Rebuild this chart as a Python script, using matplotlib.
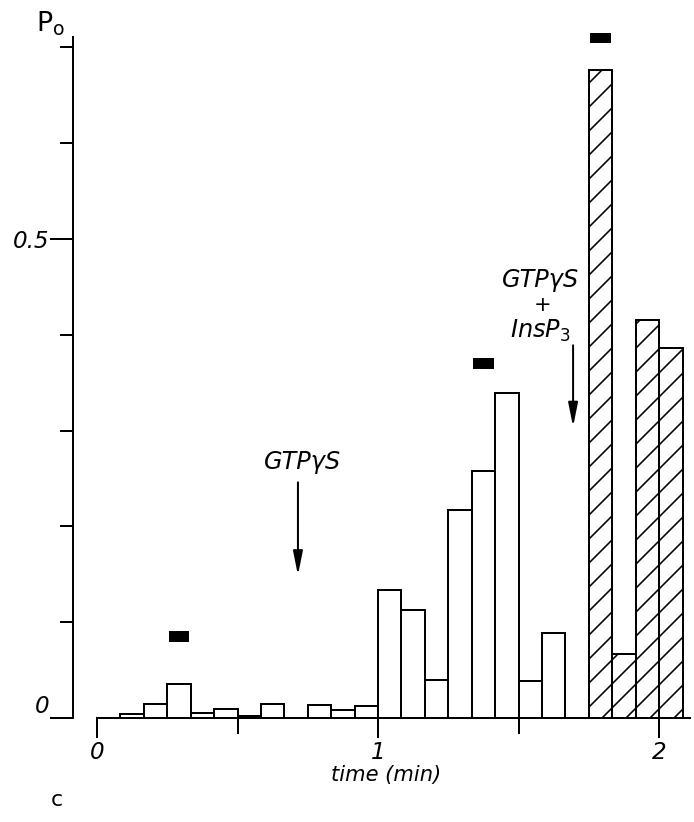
import numpy as np
import matplotlib.pyplot as plt

# 5-s bins over the recording (min), open probability per bin
bin_start = np.arange(25) / 12.0
po = [0.0, 0.004, 0.015, 0.035, 0.005, 0.009, 0.002, 0.015, 0.0, 0.014, 0.008, 0.013,
      0.134, 0.113, 0.040, 0.217, 0.258, 0.339, 0.039, 0.089, 0.0,
      0.676, 0.067, 0.415, 0.386]
# bins recorded after GTPgS + InsP3 are hatched
with_insp3 = [False] * 21 + [True] * 4

# black marks above the bins used for the example traces
trace_bins = [3, 16, 21]
trace_y = [0.085, 0.37, 0.71]

plt.rcParams['font.family'] = 'DejaVu Sans'
plt.rcParams['hatch.linewidth'] = 1.6

# at 72 dpi one point is one pixel, so all sizes below are in pixels
W, H = 694, 822
fig = plt.figure(figsize=(W / 72, H / 72), dpi=72)
ax = fig.add_axes([73 / W, 104 / H, 617 / W, 0.73 * 958 / H])

w = 1 / 12.0
for t, p, h in zip(bin_start, po, with_insp3):
    ax.bar(t, p, width=w, align='edge', facecolor='white', edgecolor='black',
           linewidth=2, hatch='/' if h else None, zorder=2)

for b, y in zip(trace_bins, trace_y):
    ax.bar(bin_start[b] + 0.005, 0.011, width=w - 0.01, bottom=y - 0.0055,
           align='edge', color='black', clip_on=False, zorder=3)

ax.set_xlim(-24 / 281, 2.11)
ax.set_ylim(0, 0.73)
for s in ['top', 'right']:
    ax.spines[s].set_visible(False)
ax.spines['left'].set_bounds(0, 0.711)
ax.spines['bottom'].set_bounds(0, 2.11)
ax.spines['left'].set_linewidth(2)
ax.spines['bottom'].set_linewidth(2)

ax.set_xticks([0, 1, 2], ['0', '1', '2'])
ax.set_xticks([0.5, 1.5], minor=True)
ax.set_yticks([0, 0.5], ['0', '0.5'])
ax.set_yticks([0.1, 0.2, 0.3, 0.4, 0.6, 0.7], minor=True)
ax.tick_params(axis='x', which='major', length=20, width=2, pad=3, labelsize=23)
ax.tick_params(axis='x', which='minor', length=16, width=2)
ax.tick_params(axis='y', which='major', length=23, width=2, pad=1, labelsize=23)
ax.tick_params(axis='y', which='minor', length=13, width=2)
for lab in ax.get_xticklabels() + ax.get_yticklabels():
    lab.set_fontstyle('italic')
ax.get_yticklabels()[0].set_verticalalignment('bottom')

arrow = dict(arrowstyle='-|>,head_length=2.0,head_width=0.4', color='black', lw=2,
             mutation_scale=10, shrinkA=0, shrinkB=0)
ax.annotate('', xy=(0.715, 0.149), xytext=(0.715, 0.246), arrowprops=arrow)
ax.text(0.73, 0.255, 'GTPγS', fontsize=24, fontstyle='italic', ha='center', va='bottom')

ax.annotate('', xy=(1.694, 0.304), xytext=(1.694, 0.389), arrowprops=arrow)
ax.text(1.577, 0.457, 'GTPγS', fontsize=24, fontstyle='italic', ha='center', va='center')
ax.text(1.585, 0.431, '+', fontsize=21, ha='center', va='center')
ax.text(1.577, 0.404, 'InsP$_3$', fontsize=24, fontstyle='italic', ha='center', va='center')

fig.text(386 / W, 1 - 775 / H, 'time (min)', fontsize=21, fontstyle='italic',
         ha='center', va='center')
fig.text(36 / W, 1 - 24 / H, 'P$_\\mathregular{o}$', fontsize=27, ha='left', va='center')
fig.text(57 / W, 1 - 800 / H, 'c', fontsize=22, ha='center', va='center')

fig.savefig('out.png', dpi=72)
